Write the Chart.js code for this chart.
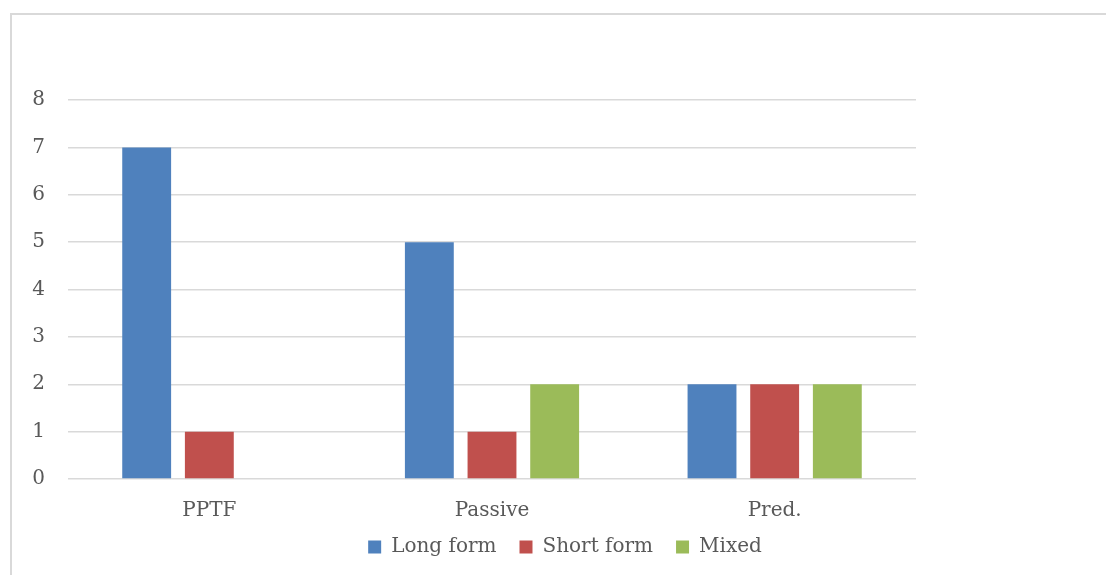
<!DOCTYPE html>
<html>
<head>
<meta charset="utf-8">
<script src="https://cdn.jsdelivr.net/npm/chart.js@4"></script>
<style>
  html, body { margin: 0; padding: 0; background: #fff; overflow: hidden; }
  #wrap { position: relative; width: 1106px; height: 575px; overflow: hidden; }
  #frame { position: absolute; left: 10px; top: 13px; width: 1200px; height: 700px;
           border: 2px solid #d9d9d9; box-sizing: border-box; }
  canvas { position: absolute; left: 0; top: 0; }
</style>
</head>
<body>
<div id="wrap">
  <div id="frame"></div>
  <canvas id="chart" width="1130" height="575"></canvas>
</div>
<script>
const categories = ['PPTF', 'Passive', 'Pred.'];
const longForm  = [7, 5, 2];
const shortForm = [1, 1, 2];
const mixed     = [0, 2, 2];
const yTicks    = [0, 1, 2, 3, 4, 5, 6, 7, 8];

const FONT = "'DejaVu Serif', serif";
const TEXT = '#595959';

// The x scale is fitted shorter than its labels so the plot reaches lower;
// widen its box again after layout so the labels are not clipped.
const xLabelRoom = {
  id: 'xLabelRoom',
  afterLayout(chart) { chart.scales.x.bottom += 24; }
};

new Chart(document.getElementById('chart'), {
  type: 'bar',
  data: {
    labels: categories,
    datasets: [
      { label: 'Long form',  data: longForm,  backgroundColor: '#4f81bd' },
      { label: 'Short form', data: shortForm, backgroundColor: '#c0504d' },
      { label: 'Mixed',      data: mixed,     backgroundColor: '#9bbb59' }
    ]
  },
  plugins: [xLabelRoom],
  options: {
    responsive: false,
    animation: false,
    layout: { padding: { top: 100, right: 0, bottom: 8, left: 0 } },
    datasets: { bar: { categoryPercentage: 0.665, barPercentage: 0.78 } },
    plugins: {
      tooltip: { enabled: false },
      legend: {
        position: 'bottom',
        labels: {
          font: { family: FONT, size: 20 },
          color: TEXT,
          boxWidth: 13,
          boxHeight: 13,
          padding: 23
        }
      }
    },
    scales: {
      x: {
        afterFit: (s) => { s.height -= 21; },
        grid: { display: false },
        border: { display: false },
        ticks: { font: { family: FONT, size: 20 }, color: TEXT, padding: 12 }
      },
      y: {
        min: 0,
        max: 8,
        afterFit: (s) => { s.width = 68; },
        afterBuildTicks: (s) => { s.ticks = yTicks.map(v => ({ value: v })); },
        grid: { color: '#d9d9d9', lineWidth: 1.5, drawTicks: false },
        border: { display: false },
        ticks: { font: { family: FONT, size: 20 }, color: TEXT, padding: 23 }
      },
      // empty right-hand margin of the plot; the legend stays centred on the full width
      margin: {
        type: 'linear',
        position: 'right',
        min: 0,
        max: 8,
        afterFit: (s) => { s.width = 214; },
        grid: { display: false, drawOnChartArea: false },
        border: { display: false },
        ticks: { display: false }
      }
    }
  }
});
</script>
</body>
</html>
